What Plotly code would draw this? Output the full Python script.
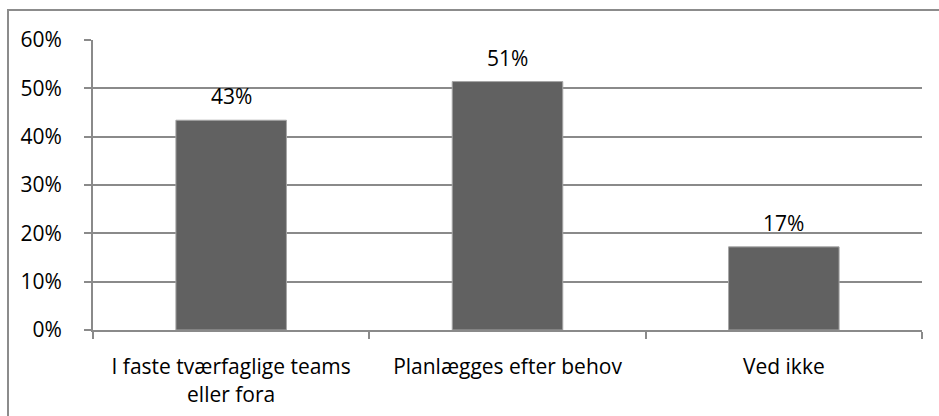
import plotly.graph_objects as go

categories = ["I faste tværfaglige teams<br>eller fora", "Planlægges efter behov", "Ved ikke"]
shares = [0.434, 0.514, 0.172]
y_ticks = [0, 0.1, 0.2, 0.3, 0.4, 0.5, 0.6]
y_tick_labels = ["0%", "10%", "20%", "30%", "40%", "50%", "60%"]

FONT = "'Open Sans', Lato, sans-serif"
GRID = "#8a8a8a"
TEXT = "#000000"
SIZE = 21

fig = go.Figure(
    go.Bar(
        x=categories,
        y=shares,
        marker=dict(color="#616161", line=dict(color="#a6a6a6", width=1)),
        hoverinfo="x+y",
    )
)

# value labels above each bar
for cat, v in zip(categories, shares):
    fig.add_annotation(
        x=cat, y=v, text=f"{v:.0%}", showarrow=False,
        yanchor="bottom", yshift=8,
        font=dict(family=FONT, size=SIZE, color=TEXT),
    )

W, H = 939, 416
L, R, T, B = 93, 17, 40, 86
pw, ph = W - L - R, H - T - B

def px_x(px):
    return (px - L) / pw

def px_y(py):
    return (H - B - py) / ph

fig.update_layout(
    width=W,
    height=H,
    margin=dict(l=L, r=R, t=T, b=B, autoexpand=False),
    paper_bgcolor="white",
    plot_bgcolor="white",
    bargap=0.6,
    showlegend=False,
    font=dict(family=FONT, size=SIZE, color=TEXT),
    shapes=[
        # surrounding frame of the chart
        dict(
            type="rect", xref="paper", yref="paper",
            x0=px_x(8), x1=px_x(950), y0=px_y(430), y1=px_y(10),
            line=dict(color="#8c8c8c", width=2), fillcolor="rgba(0,0,0,0)",
            layer="below",
        )
    ],
)

fig.update_xaxes(
    automargin=False,
    showline=True, linecolor=GRID, linewidth=2,
    ticks="outside", tickson="boundaries", ticklen=7, tickcolor=GRID, tickwidth=2,
    ticklabelstandoff=17,
    showgrid=False,
    tickfont=dict(family=FONT, size=SIZE, color=TEXT),
)
fig.update_yaxes(
    automargin=False,
    range=[0, 0.6],
    tickvals=y_ticks, ticktext=y_tick_labels,
    showline=True, linecolor=GRID, linewidth=2,
    ticks="outside", ticklen=7, tickcolor=GRID, tickwidth=2,
    ticklabelstandoff=18,
    showgrid=True, gridcolor=GRID, gridwidth=2,
    zeroline=False,
    tickfont=dict(family=FONT, size=SIZE, color=TEXT),
)

fig.write_html("out.html")
